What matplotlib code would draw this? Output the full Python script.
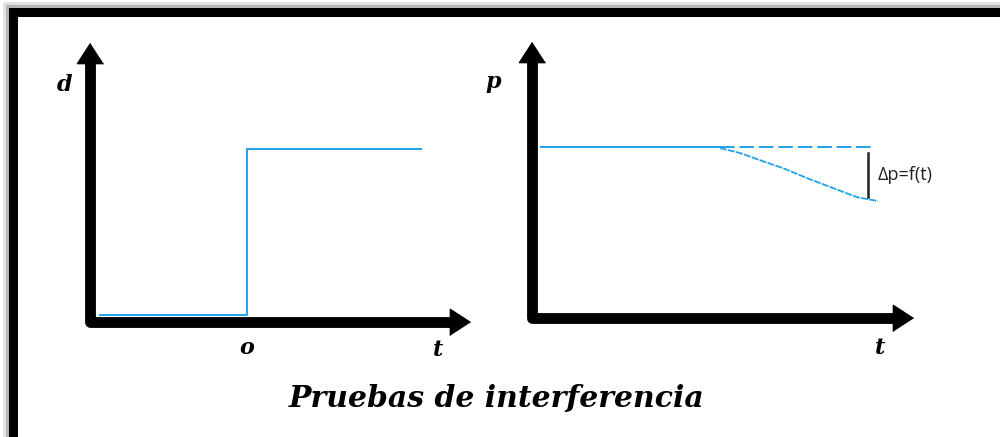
import numpy as np
import matplotlib.pyplot as plt
from matplotlib.lines import Line2D

plt.rcParams['lines.scale_dashes'] = False

# datos (coordenadas normalizadas de cada panel, 0..1)
paso_t = [0.026, 0.413, 0.413, 0.871]
paso_d = [0.025, 0.025, 0.62, 0.62]

p_plano_t = [0.024, 0.493]
p_plano = [0.62, 0.62]
p_ref_t = [0.493, 0.90]
p_ref = [0.62, 0.62]
p_curva_t = [0.493, 0.546, 0.598, 0.659, 0.722, 0.790, 0.853, 0.908]
p_curva = [0.616, 0.598, 0.572, 0.543, 0.507, 0.471, 0.438, 0.424]
dp_t = 0.882
dp_rango = [0.438, 0.598]

azul = '#1fa2e8'
fuente = dict(family='DejaVu Serif', weight='bold', style='italic')

fig = plt.figure(figsize=(10, 4.37), dpi=100)

# marco con sombra
for lw, c, off in [(10, '#e4e4e4', -3), (8, '#b8b8b8', -1.5), (6.5, 'black', 0)]:
    fig.add_artist(Line2D([(12.5 + off) / 1000] * 2, [0, 1 - (11.5 + off) / 437],
                          color=c, lw=lw, solid_capstyle='projecting'))
    fig.add_artist(Line2D([(12.5 + off) / 1000, 1], [1 - (11.5 + off) / 437] * 2,
                          color=c, lw=lw, solid_capstyle='projecting'))

punta = [(0, 0), (-0.65, -1), (0.65, -1)]


def ejes(ax, w_px, h_px):
    ax.set_xlim(0, 1)
    ax.set_ylim(0, 1)
    ax.axis('off')
    hx = 18 / w_px
    hy = 18 / h_px
    ax.plot([0, 0, 1 - hx], [1 - hy, 0, 0], color='black', lw=7.8,
            solid_joinstyle='round', solid_capstyle='butt', clip_on=False)
    ax.plot([0], [1], marker=punta, ms=29, color='black', clip_on=False)
    ax.plot([1], [0], marker=[(y, -x) for x, y in punta], ms=29,
            color='black', clip_on=False)


ax1 = fig.add_axes([0.09, 0.263, 0.38, 0.638])
ejes(ax1, 380, 279)
ax1.plot(paso_t, paso_d, color=azul, lw=1.4, clip_on=False)
ax1.text(-0.066, 0.85, 'd', ha='center', va='center', fontsize=16, **fuente)
ax1.text(0.413, -0.093, 'o', ha='center', va='center', fontsize=16, **fuente)
ax1.text(0.916, -0.10, 't', ha='center', va='center', fontsize=16, **fuente)

ax2 = fig.add_axes([0.532, 0.272, 0.381, 0.632])
ejes(ax2, 381, 276)
ax2.plot(p_plano_t, p_plano, color=azul, lw=1.4)
ax2.plot(p_ref_t, p_ref, color=azul, lw=1.4, dashes=(10.5, 3.5))
ax2.plot(p_curva_t, p_curva, color=azul, lw=1.3, dashes=(5, 1))
ax2.plot([dp_t, dp_t], dp_rango, color='#222222', lw=1.8)
ax2.text(dp_t + 0.025, np.mean(dp_rango), 'Δp=f(t)', ha='left', va='center',
         fontsize=13, family='Open Sans', color='#222222')
ax2.text(-0.102, 0.855, 'p', ha='center', va='center', fontsize=16, **fuente)
ax2.text(0.913, -0.109, 't', ha='center', va='center', fontsize=16, **fuente)

fig.text(0.497, 0.089, 'Pruebas de interferencia', ha='center', va='center',
         fontsize=21.5, **fuente)

fig.savefig('out.png', dpi=100, facecolor='white')
